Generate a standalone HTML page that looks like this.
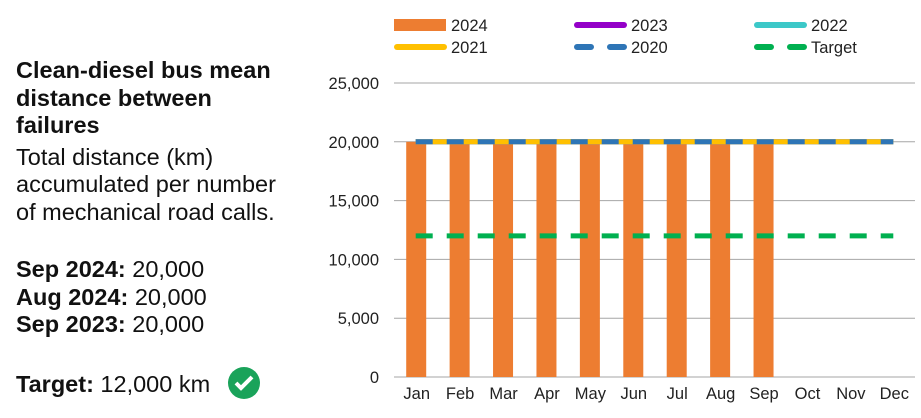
<!DOCTYPE html>
<html><head><meta charset="utf-8"><style>
body{margin:0;width:921px;height:418px;background:#fff;font-family:"Liberation Sans",sans-serif;overflow:hidden;position:relative}
#side{position:absolute;left:16px;top:57px;font-size:23.5px;color:#111;line-height:27.5px;white-space:nowrap}
.b{font-weight:bold}
</style></head><body>
<div id="side">
<div class="b">Clean-diesel bus mean<br>distance between<br>failures</div>
<div style="margin-top:4px">Total distance (km)<br>accumulated per number<br>of mechanical road calls.</div>
<div style="margin-top:30px"><span class="b">Sep 2024:</span> 20,000</div>
<div><span class="b">Aug 2024:</span> 20,000</div>
<div><span class="b">Sep 2023:</span> 20,000</div>
<div style="margin-top:33px;display:flex;align-items:center;height:27px"><span class="b">Target:</span>&nbsp;12,000 km
<svg width="34" height="34" style="margin-left:17px;margin-top:-4px"><circle cx="17" cy="17" r="16" fill="#1aa35a"/><path d="M9 17l5 5 11-11" stroke="#fff" stroke-width="4" fill="none"/></svg></div>
</div>
<svg id="chart" width="921" height="418" style="position:absolute;left:0;top:0"></svg>
<script>
const months=["Jan","Feb","Mar","Apr","May","Jun","Jul","Aug","Sep","Oct","Nov","Dec"];
const values2024=[20000,20000,20000,20000,20000,20000,20000,20000,20000,null,null,null];
const values2023=[20000,20000,20000,20000,20000,20000,20000,20000,20000,20000,20000,20000];
const values2022=[20000,20000,20000,20000,20000,20000,20000,20000,20000,20000,20000,20000];
const values2021=[20000,20000,20000,20000,20000,20000,20000,20000,20000,20000,20000,20000];
const values2020=[20000,20000,20000,20000,20000,20000,20000,20000,20000,20000,20000,20000];
const target=[12000,12000,12000,12000,12000,12000,12000,12000,12000,12000,12000,12000];
const yTicks=[0,5000,10000,15000,20000,25000];
const NS="http://www.w3.org/2000/svg",svg=document.getElementById('chart');
const L=394,R=915,Y0=377,Ymax=25000,H=294,bw=(R-L)/12;
const x=i=>L+bw*(i+0.5), y=v=>Y0-v/Ymax*H;
function mk(t,a,p){const e=document.createElementNS(NS,t);for(const k in a)e.setAttribute(k,a[k]);(p||svg).appendChild(e);return e;}
yTicks.forEach(v=>{
  if(v>0){const g=mk('line',{x1:L,x2:R,y1:y(v),y2:y(v),stroke:'#a6a6a6','stroke-width':1});
  
  }
  const t=mk('text',{x:379,y:y(v)+6,'text-anchor':'end','font-size':16.5,fill:'#222'});t.textContent=v.toLocaleString('en-US');
  
  
});
const ax=mk('line',{x1:L,x2:R,y1:Y0,y2:Y0,stroke:'#a6a6a6'});


months.forEach((m,i)=>{
  const t=mk('text',{x:x(i)+1,y:399,'text-anchor':'middle','font-size':16.5,fill:'#222'});t.textContent=m;
  
  
  const v=values2024[i];
  if(v!=null){const r=mk('rect',{x:x(i)-9.5,y:y(v),width:20,height:Y0-y(v),fill:'#ed7d31'});
  
  }
});
function line(arr,col,dash,name){
  const d=arr.map((v,i)=>(i?'L':'M')+x(i)+' '+y(v)).join(' ');
  const p=mk('path',{d:d,stroke:col,'stroke-width':5,fill:'none'});
  if(dash)p.setAttribute('stroke-dasharray',dash);
  
  
}
line(values2023,'#9400c8',null,'line-2023');
line(values2022,'#3cc8c8',null,'line-2022');
line(values2021,'#ffc000',null,'line-2021');
line(values2020,'#2e75b6','17 14','line-2020');
line(target,'#00b050','17 14','line-target');
const leg=[["2024",'#ed7d31','bar'],["2023",'#9400c8'],["2022",'#3cc8c8'],["2021",'#ffc000'],["2020",'#2e75b6','dash'],["Target",'#00b050','dash']];
leg.forEach((e,k)=>{
  const lx=394+(k%3)*180, ly=25+Math.floor(k/3)*22;
  const g=mk('g',{});
  
  
  if(e[2]=='bar')mk('rect',{x:lx,y:ly-6,width:52,height:12,fill:e[1]},g);
  else{const l=mk('line',{x1:lx+3,x2:lx+50,y1:ly,y2:ly,stroke:e[1],'stroke-width':6,'stroke-linecap':'round'},g);
    if(e[2])l.setAttribute('stroke-dasharray','14 19');}
  const t=mk('text',{x:lx+57,y:ly+6,'font-size':16.5,fill:'#222'},g);t.textContent=e[0];
});
</script>
</body></html>
